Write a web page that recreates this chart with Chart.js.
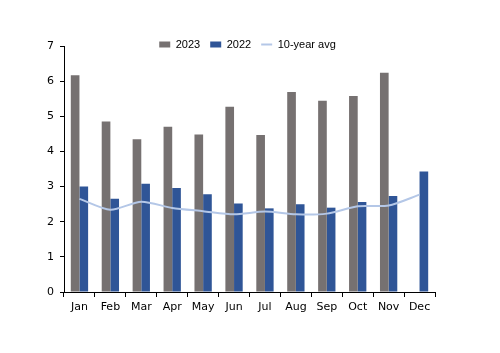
<!DOCTYPE html>
<html>
<head>
<meta charset="utf-8">
<script src="https://cdn.jsdelivr.net/npm/chart.js@4"></script>
<style>
  body { margin: 0; background: #fff; }
  #wrap { width: 500px; height: 353px; }
</style>
</head>
<body>
<div id="wrap"><canvas id="monthChart"></canvas></div>
<script>
const months = ['Jan', 'Feb', 'Mar', 'Apr', 'May', 'Jun', 'Jul', 'Aug', 'Sep', 'Oct', 'Nov', 'Dec'];
const values2023 = [6.17, 4.85, 4.35, 4.7, 4.48, 5.27, 4.47, 5.69, 5.44, 5.58, 6.24, null];
const values2022 = [3.0, 2.65, 3.08, 2.96, 2.78, 2.52, 2.38, 2.5, 2.4, 2.56, 2.73, 3.43];
const tenYearAvg = [2.65, 2.34, 2.57, 2.39, 2.3, 2.21, 2.29, 2.21, 2.23, 2.44, 2.46, 2.77];
const yTicks = [0, 1, 2, 3, 4, 5, 6, 7];

// legend overlaps the top of the plot a little in the original
const nudgeLegend = {
    id: 'nudgeLegend',
    afterLayout(chart) {
        const lg = chart.legend;
        lg.top += 14;
        lg.bottom += 14;
        lg.left += 13;
        lg.right += 13;
    }
};

const ctx = document.getElementById('monthChart').getContext('2d');
const monthChart = new Chart(ctx, {
    type: 'bar',
    data: {
        labels: months,
        datasets: [{
            label: '2023',
            data: values2023,
            backgroundColor: '#767171',
            borderWidth: 0,
            pointStyle: 'rect',
            barPercentage: 1,
            categoryPercentage: 0.56
        }, {
            label: '2022',
            data: values2022,
            backgroundColor: '#2F5597',
            borderWidth: 0,
            pointStyle: 'rect',
            barPercentage: 1,
            categoryPercentage: 0.56
        }, {
            type: 'line',
            label: '10-year avg',
            data: tenYearAvg,
            borderColor: '#B4C7E7',
            backgroundColor: '#B4C7E7',
            borderWidth: 2,
            pointRadius: 0,
            pointStyle: 'line',
            tension: 0.25,
            order: -1
        }]
    },
    options: {
        responsive: true,
        maintainAspectRatio: false,
        animation: false,
        layout: {
            padding: { top: 15, left: 34, right: 65, bottom: 31 }
        },
        plugins: {
            tooltip: { enabled: false },
            legend: {
                position: 'top',
                align: 'center',
                labels: {
                    sort: (a, b) => a.datasetIndex - b.datasetIndex,
                    usePointStyle: true,
                    pointStyleWidth: 11,
                    boxHeight: 6,
                    padding: 10,
                    color: '#000',
                    font: { family: 'Liberation Sans', size: 11 }
                }
            }
        },
        scales: {
            x: {
                border: { color: '#000', width: 1 },
                grid: {
                    display: true,
                    drawOnChartArea: false,
                    color: '#000',
                    tickLength: 5
                },
                ticks: {
                    color: '#000',
                    padding: 4,
                    font: { family: 'DejaVu Sans', size: 11 }
                },
                afterFit: (scale) => { scale.height = 30; }
            },
            y: {
                min: 0,
                max: 7,
                border: { color: '#000', width: 1 },
                grid: {
                    display: true,
                    drawOnChartArea: false,
                    color: '#000',
                    tickLength: 4
                },
                afterBuildTicks: (scale) => {
                    scale.ticks = yTicks.map(v => ({ value: v }));
                },
                ticks: {
                    color: '#000',
                    padding: 6,
                    font: { family: 'DejaVu Sans', size: 11 }
                },
                afterFit: (scale) => { scale.width = 30; }
            }
        }
    },
    plugins: [nudgeLegend]
});
</script>
</body>
</html>
